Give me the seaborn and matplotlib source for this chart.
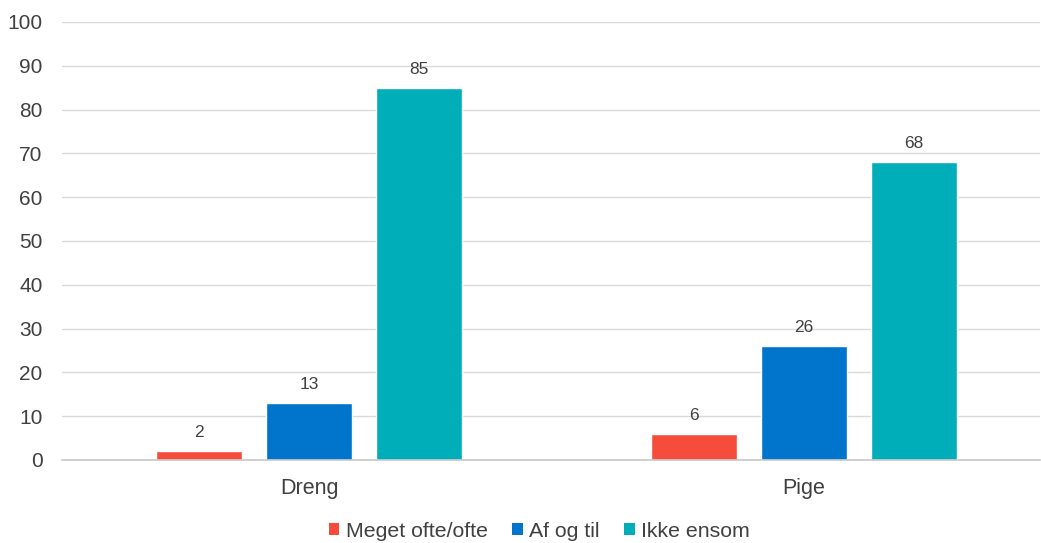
import matplotlib
matplotlib.use("Agg")
import matplotlib.pyplot as plt
from matplotlib.patches import Patch
import seaborn as sns
import pandas as pd

# Andel (%) efter køn og hvor ofte man føler sig ensom
categories = ["Dreng", "Pige"]
series_names = ["Meget ofte/ofte", "Af og til", "Ikke ensom"]
meget_ofte = [2, 6]
af_og_til = [13, 26]
ikke_ensom = [85, 68]
y_ticks = [0, 10, 20, 30, 40, 50, 60, 70, 80, 90, 100]

colors = ["#F64C3C", "#0075CB", "#00AEB9"]
text_color = "#404040"

rows = []
for name, vals in zip(series_names, [meget_ofte, af_og_til, ikke_ensom]):
    for cat, v in zip(categories, vals):
        rows.append({"Køn": cat, "Svar": name, "Andel": v})
df = pd.DataFrame(rows)

sns.set_theme(style="white")
plt.rcParams["font.family"] = ["Liberation Sans", "DejaVu Sans"]

fig = plt.figure(figsize=(10.41, 5.43), dpi=100)
ax = fig.add_axes([0.0596, 0.1529, 0.9394, 0.8066])

sns.barplot(data=df, x="Køn", y="Andel", hue="Svar", order=categories,
            hue_order=series_names, palette=colors, width=0.667, gap=0.217,
            saturation=1, legend=False, ax=ax, errorbar=None)

ax.set_xlim(-0.5, 1.477)
ax.set_ylim(0, 100)
ax.set_yticks(y_ticks)
ax.set_xlabel("")
ax.set_ylabel("")
ax.yaxis.grid(True, color="#D9D9D9", linewidth=1.0)
ax.set_axisbelow(True)
for s in ["top", "right", "left"]:
    ax.spines[s].set_visible(False)
ax.spines["bottom"].set_color("#C8C8C8")
ax.spines["bottom"].set_linewidth(1.2)
ax.tick_params(axis="both", length=0, colors=text_color)
ax.tick_params(axis="y", pad=14, labelsize=15)
ax.tick_params(axis="x", pad=13, labelsize=15.5)

for container in ax.containers:
    ax.bar_label(container, fmt="%d", padding=8, fontsize=12.5, color=text_color)

handles = [Patch(facecolor=c, edgecolor="none") for c in colors]
fig.legend(handles, series_names, loc="center", bbox_to_anchor=(0.518, 0.022),
           ncol=3, frameon=False, fontsize=15.3, handlelength=0.5,
           handleheight=0.5, handletextpad=0.3, columnspacing=1.15,
           labelcolor=text_color)

fig.savefig("out.png", dpi=100, facecolor="white")
